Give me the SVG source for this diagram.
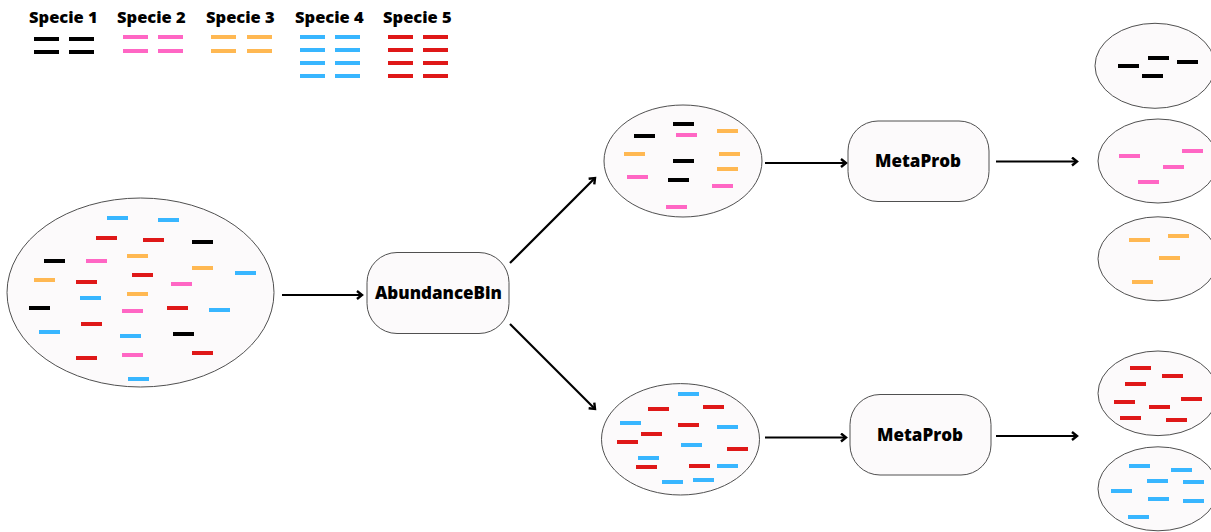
<svg xmlns="http://www.w3.org/2000/svg" xmlns:xlink="http://www.w3.org/1999/xlink" width="1211" height="532" viewBox="0 0 1211 532">
<style>
.t{font-family:"Open Sans","Liberation Sans",sans-serif;font-weight:800;fill:#000}
.lg{font-size:16.5px}
.bx{font-size:17px;text-anchor:middle}
.ell{fill:#fcfafb;stroke:#505050;stroke-width:1}
.box{fill:#fcfafb;stroke:#505050;stroke-width:1}
.k{fill:#000}.p{fill:#ff66c4}.o{fill:#ffb852}.b{fill:#38b6ff}.r{fill:#df1818}
.c{stroke:#000;stroke-width:2.2;fill:none}
</style>
<defs>
<marker id="ah" viewBox="0 0 10 10" refX="7" refY="5" markerWidth="10" markerHeight="10" markerUnits="userSpaceOnUse" orient="auto">
<path d="M2,1 L7,5 L2,9" fill="none" stroke="#000" stroke-width="2.4"/>
</marker>
<rect id="d" width="21" height="4"/>
<rect id="L" width="25" height="4"/>
</defs>
<rect width="1211" height="532" fill="#fff"/>

<g id="legend">
<text class="t lg" x="29" y="23">Specie 1</text>
<text class="t lg" x="117" y="23">Specie 2</text>
<text class="t lg" x="206" y="23">Specie 3</text>
<text class="t lg" x="295" y="23">Specie 4</text>
<text class="t lg" x="383" y="23">Specie 5</text>
<g class="k"><use href="#L" x="34" y="37"/><use href="#L" x="69" y="37"/><use href="#L" x="34" y="50"/><use href="#L" x="69" y="50"/></g>
<g class="p"><use href="#L" x="123" y="35"/><use href="#L" x="158" y="35"/><use href="#L" x="123" y="49"/><use href="#L" x="158" y="49"/></g>
<g class="o"><use href="#L" x="211" y="35"/><use href="#L" x="247" y="35"/><use href="#L" x="211" y="49"/><use href="#L" x="247" y="49"/></g>
<g class="b"><use href="#L" x="300" y="35"/><use href="#L" x="335" y="35"/><use href="#L" x="300" y="48"/><use href="#L" x="335" y="48"/><use href="#L" x="300" y="61"/><use href="#L" x="335" y="61"/><use href="#L" x="300" y="74"/><use href="#L" x="335" y="74"/></g>
<g class="r"><use href="#L" x="388" y="35"/><use href="#L" x="423" y="35"/><use href="#L" x="388" y="48"/><use href="#L" x="423" y="48"/><use href="#L" x="388" y="61"/><use href="#L" x="423" y="61"/><use href="#L" x="388" y="74"/><use href="#L" x="423" y="74"/></g>
</g>

<g id="connectors">
<line class="c" x1="282" y1="295" x2="362" y2="295" marker-end="url(#ah)"/>
<line class="c" x1="510" y1="263" x2="595" y2="178" marker-end="url(#ah)"/>
<line class="c" x1="510" y1="324" x2="595" y2="409" marker-end="url(#ah)"/>
<line class="c" x1="765" y1="163" x2="846" y2="163" marker-end="url(#ah)"/>
<line class="c" x1="765" y1="437.5" x2="846" y2="437.5" marker-end="url(#ah)"/>
<line class="c" x1="996" y1="161.5" x2="1077" y2="161.5" marker-end="url(#ah)"/>
<line class="c" x1="996" y1="436" x2="1077" y2="436" marker-end="url(#ah)"/>
</g>

<g id="sample">
<ellipse class="ell" cx="140.5" cy="292.5" rx="133.5" ry="94.5"/>
<g class="b"><use href="#d" x="107" y="216"/><use href="#d" x="158" y="218"/><use href="#d" x="235" y="271"/><use href="#d" x="80" y="296"/><use href="#d" x="209" y="308"/><use href="#d" x="39" y="330"/><use href="#d" x="120" y="334"/><use href="#d" x="128" y="377"/></g>
<g class="r"><use href="#d" x="96" y="236"/><use href="#d" x="143" y="238"/><use href="#d" x="76" y="280"/><use href="#d" x="132" y="273"/><use href="#d" x="167" y="306"/><use href="#d" x="81" y="322"/><use href="#d" x="76" y="356"/><use href="#d" x="192" y="351"/></g>
<g class="k"><use href="#d" x="192" y="240"/><use href="#d" x="44" y="259"/><use href="#d" x="29" y="306"/><use href="#d" x="173" y="332"/></g>
<g class="p"><use href="#d" x="86" y="259"/><use href="#d" x="171" y="282"/><use href="#d" x="122" y="309"/><use href="#d" x="122" y="353"/></g>
<g class="o"><use href="#d" x="127" y="254"/><use href="#d" x="192" y="266"/><use href="#d" x="34" y="278"/><use href="#d" x="127" y="292"/></g>
</g>

<g id="abundancebin">
<rect class="box" x="367" y="252.5" width="142" height="81" rx="30" ry="30"/>
<text class="t bx" x="438.5" y="298.5">AbundanceBin</text>
</g>

<g id="bin1">
<ellipse class="ell" cx="683" cy="161" rx="79" ry="56"/>
<g class="k"><use href="#d" x="673" y="122"/><use href="#d" x="634" y="134"/><use href="#d" x="673" y="159"/><use href="#d" x="668" y="178"/></g>
<g class="p"><use href="#d" x="676" y="133"/><use href="#d" x="627" y="175"/><use href="#d" x="712" y="184"/><use href="#d" x="666" y="205"/></g>
<g class="o"><use href="#d" x="717" y="129"/><use href="#d" x="624" y="152"/><use href="#d" x="719" y="152"/><use href="#d" x="717" y="167"/></g>
</g>

<g id="bin2">
<ellipse class="ell" cx="680.5" cy="439.3" rx="79" ry="55.7"/>
<g class="b"><use href="#d" x="678" y="392"/><use href="#d" x="620" y="421"/><use href="#d" x="717" y="425"/><use href="#d" x="681" y="443"/><use href="#d" x="638" y="456"/><use href="#d" x="717" y="464"/><use href="#d" x="662" y="480"/><use href="#d" x="693" y="478"/></g>
<g class="r"><use href="#d" x="648" y="407"/><use href="#d" x="703" y="405"/><use href="#d" x="678" y="423"/><use href="#d" x="641" y="432"/><use href="#d" x="617" y="440"/><use href="#d" x="727" y="447"/><use href="#d" x="636" y="465"/><use href="#d" x="689" y="464"/></g>
</g>

<g id="metaprob1">
<rect class="box" x="848" y="121" width="141" height="80.5" rx="30" ry="30"/>
<text class="t bx" x="918" y="167">MetaProb</text>
</g>

<g id="metaprob2">
<rect class="box" x="850" y="394.5" width="141" height="80.5" rx="30" ry="30"/>
<text class="t bx" x="920" y="440.5">MetaProb</text>
</g>

<g id="out1">
<ellipse class="ell" cx="1155" cy="65.8" rx="60" ry="42.5"/>
<g class="k"><use href="#d" x="1118" y="64"/><use href="#d" x="1148" y="56"/><use href="#d" x="1177" y="60"/><use href="#d" x="1142" y="74"/></g>
</g>
<g id="out2">
<ellipse class="ell" cx="1158" cy="161" rx="60" ry="42"/>
<g class="p"><use href="#d" x="1119" y="154"/><use href="#d" x="1182" y="149"/><use href="#d" x="1163" y="165"/><use href="#d" x="1138" y="180"/></g>
</g>
<g id="out3">
<ellipse class="ell" cx="1158" cy="258.8" rx="60" ry="42"/>
<g class="o"><use href="#d" x="1129" y="238"/><use href="#d" x="1168" y="234"/><use href="#d" x="1159" y="256"/><use href="#d" x="1132" y="280"/></g>
</g>
<g id="out4">
<ellipse class="ell" cx="1158" cy="393.3" rx="60" ry="42.3"/>
<g class="r"><use href="#d" x="1130" y="366"/><use href="#d" x="1162" y="374"/><use href="#d" x="1125" y="382"/><use href="#d" x="1114" y="400"/><use href="#d" x="1181" y="397"/><use href="#d" x="1149" y="405"/><use href="#d" x="1120" y="416"/><use href="#d" x="1166" y="418"/></g>
</g>
<g id="out5">
<ellipse class="ell" cx="1158" cy="488.8" rx="60" ry="42"/>
<g class="b"><use href="#d" x="1129" y="464"/><use href="#d" x="1171" y="468"/><use href="#d" x="1147" y="479"/><use href="#d" x="1183" y="480"/><use href="#d" x="1111" y="489"/><use href="#d" x="1148" y="497"/><use href="#d" x="1183" y="499"/><use href="#d" x="1128" y="515"/></g>
</g>
</svg>
